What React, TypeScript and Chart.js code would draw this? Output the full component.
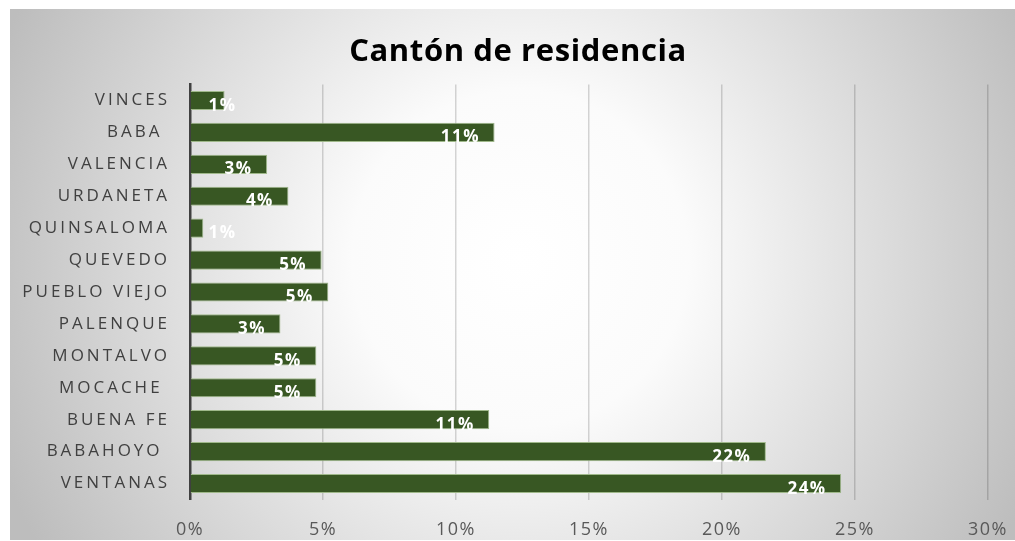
import React, { useEffect, useRef } from 'react';
import { Chart, registerables } from 'chart.js';

Chart.register(...registerables);

const chartTitle = 'Cantón de residencia';
const categories = [
  'VINCES',
  'BABA ',
  'VALENCIA',
  'URDANETA',
  'QUINSALOMA',
  'QUEVEDO',
  'PUEBLO VIEJO',
  'PALENQUE',
  'MONTALVO',
  'MOCACHE ',
  'BUENA FE',
  'BABAHOYO ',
  'VENTANAS',
];
const values = [1.3, 11.45, 2.9, 3.7, 0.5, 4.95, 5.2, 3.4, 4.75, 4.75, 11.25, 21.65, 24.48];
const xMin = 0;
const xMax = 30;
const xStep = 5;

const FONT = "'Open Sans', 'Noto Sans', sans-serif";

const decorPlugin = {
  id: 'decor',
  beforeDraw(chart: any) {
    const ctx: CanvasRenderingContext2D = chart.ctx;
    const spacing: Record<string, string> = { x: '1.5px', y: '3px' };
    for (const id of ['x', 'y']) {
      const s: any = chart.scales[id];
      if (s && !s.__patched) {
        const orig = s.drawLabels.bind(s);
        s.drawLabels = (area: any) => {
          const c: any = chart.ctx;
          c.save();
          c.letterSpacing = spacing[id];
          orig(area);
          c.restore();
        };
        s.__patched = true;
      }
    }
    const w = chart.width;
    const h = chart.height;
    ctx.save();
    const g = ctx.createRadialGradient(510, 250, 0, 510, 250, 560);
    g.addColorStop(0, '#ffffff');
    g.addColorStop(0.3, '#fbfbfb');
    g.addColorStop(1, '#bdbdbd');
    ctx.fillStyle = g;
    ctx.fillRect(0, 0, w, h);
    ctx.restore();
  },
  afterDatasetsDraw(chart: any) {
    const ctx: any = chart.ctx;
    const meta = chart.getDatasetMeta(0);
    const left = chart.chartArea.left;
    ctx.save();
    ctx.letterSpacing = '1.5px';
    ctx.font = `bold 17px ${FONT}`;
    ctx.fillStyle = '#ffffff';
    ctx.textAlign = 'right';
    ctx.textBaseline = 'alphabetic';
    meta.data.forEach((bar: any, i: number) => {
      const p = bar.getProps(['x', 'y', 'height'], true);
      const text = Math.round(values[i]) + '%';
      const xr = Math.max(p.x - 14.5, left + 46.5);
      ctx.fillText(text, xr, p.y + p.height / 2 + 0.5);
    });
    ctx.restore();
  },
  afterDraw(chart: any) {
    const ctx: any = chart.ctx;
    ctx.save();
    ctx.letterSpacing = '0.6px';
    ctx.font = `bold 31px ${FONT}`;
    ctx.fillStyle = '#000000';
    ctx.textAlign = 'center';
    ctx.textBaseline = 'alphabetic';
    ctx.fillText(chartTitle, 508, 52);
    ctx.restore();
  },
};

export default function App() {
  const ref = useRef<HTMLCanvasElement | null>(null);
  useEffect(() => {
    if (!ref.current) return;
    const chart = new Chart(ref.current, {
      type: 'bar',
      data: {
        labels: categories,
        datasets: [
          {
            data: values,
            backgroundColor: '#385723',
            borderColor: '#9fb88a',
            borderWidth: 1,
            barPercentage: 0.6,
            categoryPercentage: 1,
          },
        ],
      },
      options: {
        indexAxis: 'y',
        responsive: false,
        animation: false,
        layout: { padding: { top: 75.5, right: 27, left: 0, bottom: 0 } },
        plugins: {
          legend: { display: false },
          title: { display: false },
          tooltip: { enabled: false },
        },
        scales: {
          x: {
            type: 'linear',
            min: xMin,
            max: xMax,
            ticks: {
              stepSize: xStep,
              callback: (v: any) => v + '%',
              color: '#595959',
              font: { family: FONT, size: 18 },
              padding: 20,
            },
            grid: { color: 'rgba(0,0,0,0.16)', lineWidth: 1.5, drawTicks: false },
            border: { display: false },
            afterFit: (s: any) => {
              s.height = 40.5;
              s.paddingLeft = 0;
              s.paddingRight = 0;
            },
          },
          y: {
            ticks: {
              color: '#404040',
              font: { family: FONT, size: 17 },
              padding: 20,
              autoSkip: false,
            },
            grid: { display: false, drawTicks: false },
            border: { color: '#404040', width: 2.5 },
            afterFit: (s: any) => {
              s.width = 180;
              s.paddingTop = 0;
              s.paddingBottom = 0;
            },
          },
        },
      },
      plugins: [decorPlugin],
    });
    chart.draw();
    return () => chart.destroy();
  }, []);
  return (
    <div style={{ position: 'absolute', left: 10, top: 9 }}>
      <canvas ref={ref} width={1005} height={531} style={{ display: 'block' }} />
    </div>
  );
}
